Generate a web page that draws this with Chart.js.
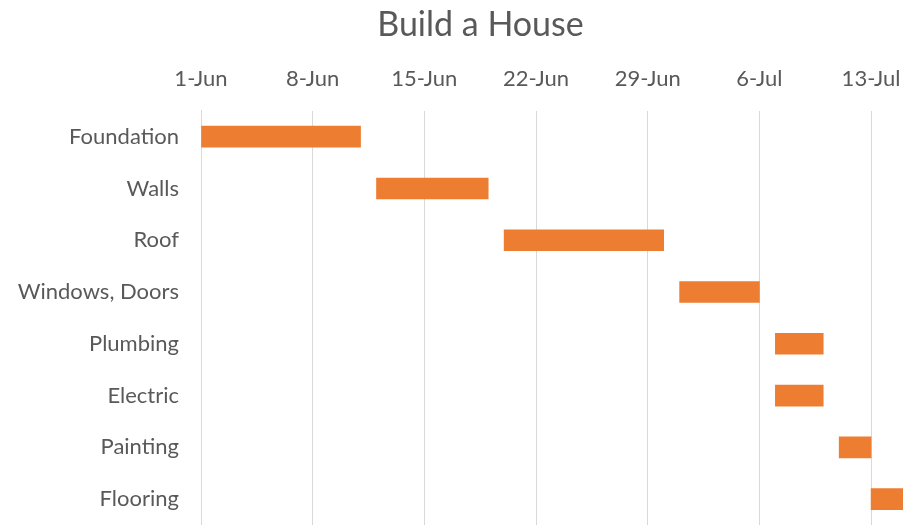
<!DOCTYPE html>
<html>
<head>
<meta charset="utf-8">
<script src="https://cdn.jsdelivr.net/npm/chart.js@4"></script>
<style>
  html, body { margin: 0; padding: 0; background: #fff; }
  #wrap { width: 903px; height: 525px; position: relative; }
</style>
</head>
<body>
<div id="wrap"><canvas id="chart-gantt"></canvas></div>
<script>
// Tasks and schedule (days counted from 1-Jun)
const tasks = ['Foundation', 'Walls', 'Roof', 'Windows, Doors', 'Plumbing', 'Electric', 'Painting', 'Flooring'];
const startDay = [0, 11, 19, 30, 36, 36, 40, 42];
const durationDays = [10, 7, 10, 5, 3, 3, 2, 2];

// Date axis ticks
const tickDays = [0, 7, 14, 21, 28, 35, 42];
const tickLabels = ['1-Jun', '8-Jun', '15-Jun', '22-Jun', '29-Jun', '6-Jul', '13-Jul'];
const lastDay = 44;

const textColor = '#595959';
const gridColor = '#D9D9D9';
const fontFamily = "Lato, 'Open Sans', sans-serif";

const bars = tasks.map((t, i) => [startDay[i], startDay[i] + durationDays[i]]);

// title in the original sits a bit right of the canvas centre
const shiftTitle = {
  id: 'shiftTitle',
  afterLayout(chart) {
    if (chart.titleBlock) chart.titleBlock.left += 58;
  }
};

new Chart(document.getElementById('chart-gantt'), {
  type: 'bar',
  data: {
    labels: tasks,
    datasets: [{
      label: 'Schedule',
      data: bars,
      backgroundColor: '#ED7D31',
      borderWidth: 0,
      barThickness: 21
    }]
  },
  plugins: [shiftTitle],
  options: {
    indexAxis: 'y',
    responsive: true,
    maintainAspectRatio: false,
    animation: false,
    layout: { padding: 0 },
    plugins: {
      legend: { display: false },
      tooltip: { enabled: false },
      title: {
        display: true,
        text: 'Build a House',
        color: textColor,
        font: { family: fontFamily, size: 34, weight: 'normal' },
        padding: { top: 5, bottom: 0 }
      }
    },
    scales: {
      x: {
        type: 'linear',
        position: 'top',
        min: 0,
        max: lastDay,
        grid: { color: gridColor, lineWidth: 1, drawTicks: false },
        border: { display: false },
        afterBuildTicks: s => { s.ticks = tickDays.map(v => ({ value: v })); },
        afterFit: s => { s.height = 65; s.paddingLeft = 0; s.paddingRight = 0; },
        ticks: {
          color: textColor,
          padding: 19,
          font: { family: fontFamily, size: 22 },
          callback: v => tickLabels[tickDays.indexOf(v)] || ''
        }
      },
      y: {
        grid: { display: false, drawTicks: false },
        border: { display: true, color: gridColor },
        afterFit: s => { s.width = 201; s.paddingTop = 0; s.paddingBottom = 0; },
        ticks: {
          color: textColor,
          padding: 22,
          font: { family: fontFamily, size: 22 }
        }
      }
    }
  }
});
</script>
</body>
</html>
